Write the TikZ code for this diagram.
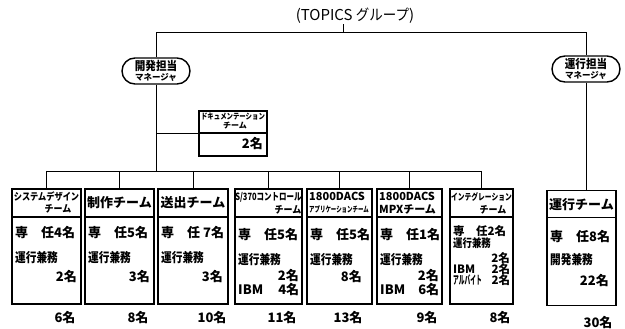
\documentclass[tikz,border=0pt]{standalone}
\usepackage{fontspec}
\usepackage{graphicx}
\newfontfamily\jpx{Noto Sans CJK JP}
\newcommand\jp{\jpx\bfseries}
\usetikzlibrary{shapes.misc}
\newcommand\jfs[1]{\fontsize{#1}{#1}\selectfont}
\newcommand\kn[1]{\scalebox{0.82}[1]{#1}}
\begin{document}
\begin{tikzpicture}[x=1pt,y=-1pt,
  conn/.style={line width=0.8pt},
  teambox/.style={draw, line width=1.6pt, inner sep=0pt, outer sep=0pt, minimum height=115pt},
  divline/.style={line width=1.6pt},
  mgr/.style={draw, rounded rectangle, line width=1.4pt, minimum width=68pt, minimum height=26pt, inner sep=0pt, align=center, font=\jp\fontsize{12}{10.5}\selectfont},
  hdr/.style={inner sep=0pt, font=\jp\jfs{13}},
  hsm/.style={inner sep=0pt, font=\jp\jfs{10}},
  bodytxt/.style={inner sep=0pt, font=\jp\jfs{13}},
  total/.style={inner sep=0pt, font=\jp\jfs{13}},
  titletxt/.style={inner sep=0pt, font=\jpx\jfs{15}},
]
\useasboundingbox (0,0) rectangle (625,329);

% title and managers
\node[titletxt] (title) at (355,16) {(TOPICS \scalebox{0.9}[1]{グループ})};
\node[mgr] (m1) at (156,71) {\scalebox{0.88}[1]{開発担当}\\{\fontsize{8.5}{8.5}\selectfont マネージャ}};
\node[mgr] (m2) at (586,69) {\scalebox{0.88}[1]{運行担当}\\{\fontsize{8.5}{8.5}\selectfont マネージャ}};
\coordinate (top) at (0,32);
\coordinate (tk) at (343,32);
\coordinate (bus) at (0,171);
\draw[conn] (m1.north) -- (m1.north |- top) -- (m2.north |- top) -- (m2.north);
\draw[conn] (tk) -- (tk |- title.south);

% documentation team
\node[teambox, minimum width=68pt, minimum height=45pt] (doc) at (233,133.5) {};
\draw[divline] ([yshift=-22pt]doc.north west) -- ([yshift=-22pt]doc.north east);
\node[hsm, font=\jp\jfs{8}] (doca) at (233,117) {\scalebox{0.8}[1]{ドキュメンテーション}};
\node[hsm, font=\jp\jfs{8}] (docb) at (235,126) {チーム};
\node[bodytxt, anchor=east] (docc) at (263,144) {2名};

% team boxes
\node[teambox, minimum width=69pt] (t1) at (46.5,246.5) {};
\node[teambox, minimum width=69pt] (t2) at (119.5,246.5) {};
\node[teambox, minimum width=70pt] (t3) at (193,246.5) {};
\node[teambox, minimum width=67pt] (t4) at (268.5,246.5) {};
\node[teambox, minimum width=65pt] (t5) at (339.5,246.5) {};
\node[teambox, minimum width=65pt] (t6) at (409.5,246.5) {};
\node[teambox, minimum width=63pt] (t7) at (481.5,246.5) {};
\node[teambox, minimum width=69pt] (t8) at (581.5,248) {};
\foreach \t in {t1,t2,t3,t4,t5,t6,t7}{
  \draw[divline] ([yshift=-28pt]\t.north west) -- ([yshift=-28pt]\t.north east);
  \draw[conn] (\t.north |- bus) -- (\t.north);
}
\draw[divline] ([yshift=-27pt]t8.north west) -- ([yshift=-27pt]t8.north east);

% connectors
\draw[conn] (t1.north |- bus) -- (t7.north |- bus);
\draw[conn] (m1.south) -- (m1.south |- bus);
\draw[conn] (doc.west) -- (doc.west -| m1.south);
\draw[conn] (m2.south) -- (m2.south |- t8.north);

% box 1
\node[hsm] (t1h1) at (46.5,197) {\scalebox{0.82}[1]{システムデザイン}};
\node[hsm] (t1h2) at (58,209) {\scalebox{0.9}[1]{チーム}};
\node[bodytxt, anchor=west] (t1a) at (15,233) {専　任4名};
\node[bodytxt, anchor=west] (t1b) at (15,258) {\kn{運行兼務}};
\node[bodytxt, anchor=east] (t1c) at (77,277) {2名};
\node[total] (t1t) at (65,318) {6名};

% box 2
\node[hdr] (t2h) at (119.5,203) {制作チーム};
\node[bodytxt, anchor=west] (t2a) at (88,233) {専　任5名};
\node[bodytxt, anchor=west] (t2b) at (88,258) {\kn{運行兼務}};
\node[bodytxt, anchor=east] (t2c) at (150,277) {3名};
\node[total] (t2t) at (138,318) {8名};

% box 3
\node[hdr] (t3h) at (193,203) {送出チーム};
\node[bodytxt, anchor=west] (t3a) at (161,233) {専　任 7名};
\node[bodytxt, anchor=west] (t3b) at (161,258) {\kn{運行兼務}};
\node[bodytxt, anchor=east] (t3c) at (223,277) {3名};
\node[total] (t3t) at (212,318) {10名};

% box 4
\node[hsm] (t4h1) at (268.5,197) {\scalebox{0.75}[1]{S/370コントロール}};
\node[hsm] (t4h2) at (288,210) {\scalebox{0.9}[1]{チーム}};
\node[bodytxt, anchor=west] (t4a) at (238,235) {専　任5名};
\node[bodytxt, anchor=west] (t4b) at (238,260) {\kn{運行兼務}};
\node[bodytxt, anchor=east] (t4c) at (299,276) {2名};
\node[bodytxt, anchor=west] (t4d) at (238,290) {\makebox[61pt][s]{IBM\hfill 4名}};
\node[total] (t4t) at (282,318) {11名};

% box 5
\node[hsm, anchor=west, font=\jp\jfs{11}] (t5h1) at (309,196) {1800DACS};
\node[hsm, anchor=west, font=\jp\jfs{8}] (t5h2) at (309,209) {\scalebox{0.68}[1]{アプリケーションチーム}};
\node[bodytxt, anchor=west] (t5a) at (310,235) {専　任5名};
\node[bodytxt, anchor=west] (t5b) at (310,260) {\kn{運行兼務}};
\node[bodytxt, anchor=east] (t5c) at (362,277) {8名};
\node[total] (t5t) at (348,318) {13名};

% box 6
\node[hsm, anchor=west, font=\jp\jfs{11}] (t6h1) at (379,196) {1800DACS};
\node[hsm, anchor=west, font=\jp\jfs{11}] (t6h2) at (379,209) {MPXチーム};
\node[bodytxt, anchor=west] (t6a) at (380,235) {専　任1名};
\node[bodytxt, anchor=west] (t6b) at (380,260) {\kn{運行兼務}};
\node[bodytxt, anchor=east] (t6c) at (439,276) {2名};
\node[bodytxt, anchor=west] (t6d) at (380,290) {\makebox[59pt][s]{IBM\hfill 6名}};
\node[total] (t6t) at (427,318) {9名};

% box 7
\node[hsm, font=\jp\jfs{9}] (t7h1) at (481.5,197) {\scalebox{0.75}[1]{インテグレーション}};
\node[hsm] (t7h2) at (493,210) {\scalebox{0.9}[1]{チーム}};
\node[bodytxt, anchor=west, font=\jp\jfs{11.5}] (t7a) at (453,231) {専　任2名};
\node[bodytxt, anchor=west, font=\jp\jfs{11.5}] (t7b) at (453,243) {\kn{運行兼務}};
\node[bodytxt, anchor=east, font=\jp\jfs{11.5}] (t7c) at (510,258) {2名};
\node[bodytxt, anchor=west, font=\jp\jfs{11.5}] (t7d) at (453,269) {\makebox[57pt][s]{IBM\hfill 2名}};
\node[bodytxt, anchor=west, font=\jp\jfs{11.5}] (t7e) at (453,280) {\makebox[57pt][s]{\scalebox{0.5}[1]{アルバイト}\hfill 2名}};
\node[total] (t7t) at (500,318) {8名};

% box 8
\node[hdr] (t8h) at (581.5,205) {運行チーム};
\node[bodytxt, anchor=west] (t8a) at (550,237) {専　任8名};
\node[bodytxt, anchor=west] (t8b) at (550,260) {\kn{開発兼務}};
\node[bodytxt, anchor=east] (t8c) at (609,281) {22名};
\node[total] (t8t) at (598,323) {30名};
\end{tikzpicture}
\end{document}
